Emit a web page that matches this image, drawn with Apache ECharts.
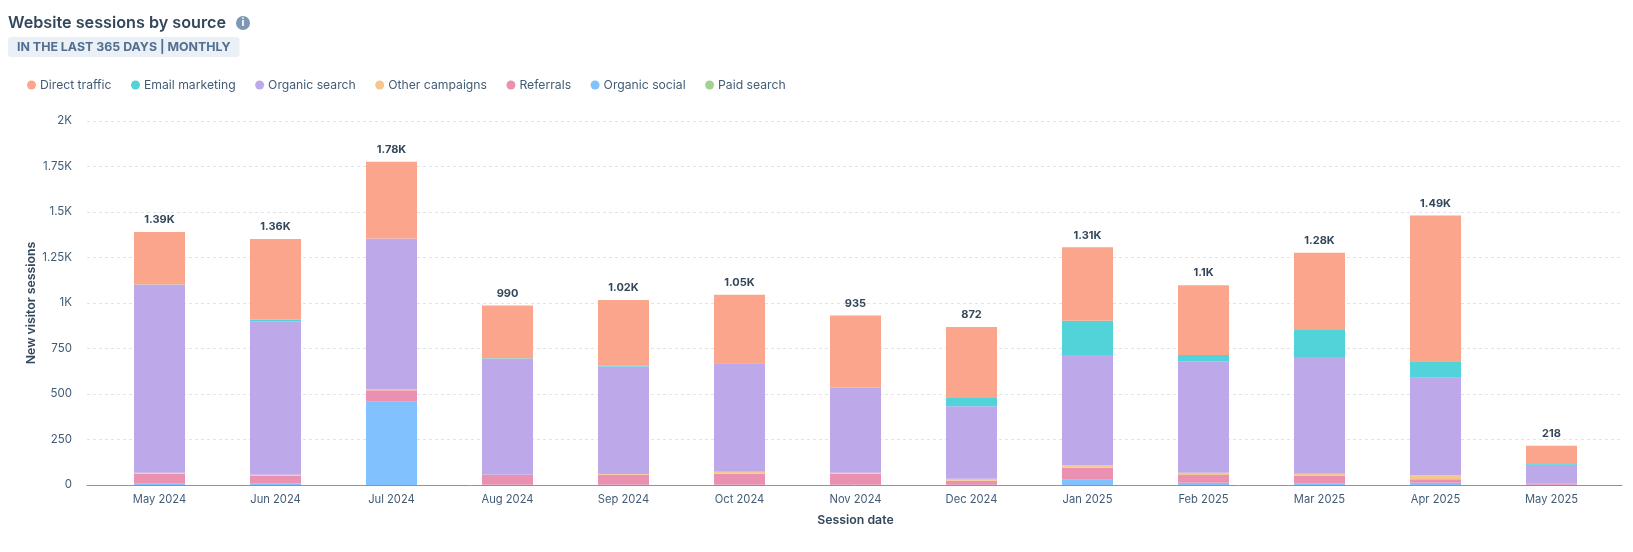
<!DOCTYPE html>
<html>
<head>
	<meta charset="UTF-8">
	<title>Website sessions by source</title>
	<script src="https://cdn.jsdelivr.net/npm/echarts@6/dist/echarts.min.js"></script>
	<style>
		html, body { margin: 0; padding: 0; background: #fff; }
		#chart { width: 1633px; height: 552px; }
	</style>
</head>
<body>
<div id="chart"></div>
<script type="text/javascript">
var categories = ["May 2024", "Jun 2024", "Jul 2024", "Aug 2024", "Sep 2024", "Oct 2024", "Nov 2024", "Dec 2024", "Jan 2025", "Feb 2025", "Mar 2025", "Apr 2025", "May 2025"];

var paidSearch = [0, 0, 0, 0, 0, 0, 0, 0, 0, 0, 0, 0, 0];
var organicSocial = [9, 9, 458, 1, 1, 1, 1, 1, 29, 13, 9, 13, 2];
var referrals = [53, 42, 62, 54, 55, 61, 61, 23, 66, 42, 42, 18, 5];
var otherCampaigns = [5, 5, 7, 1, 5, 11, 5, 11, 14, 12, 11, 22, 0];
var organicSearch = [1033, 844, 827, 637, 590, 596, 469, 398, 605, 613, 641, 536, 104];
var emailMarketing = [1, 8, 1, 3, 4, 1, 1, 45, 189, 34, 148, 91, 5];
var directTraffic = [289, 444, 421, 290, 361, 376, 394, 390, 403, 384, 425, 801, 100];

var totalLabels = ["1.39K", "1.36K", "1.78K", "990", "1.02K", "1.05K", "935", "872", "1.31K", "1.1K", "1.28K", "1.49K", "218"];
var legendNames = ["Direct traffic", "Email marketing", "Organic search", "Other campaigns", "Referrals", "Organic social", "Paid search"];

var fontName = "Inter";
var textDark = "#33475b";
var textMid = "#425b76";

function barSeries(name, data, color) {
	return {
		name: name,
		type: "bar",
		stack: "sessions",
		xAxisIndex: 1,
		yAxisIndex: 1,
		barWidth: 51,
		itemStyle: { color: color },
		data: data
	};
}

// position of the total label = sum of the stack
var stackTops = categories.map(function (c, i) {
	return paidSearch[i] + organicSocial[i] + referrals[i] + otherCampaigns[i] + organicSearch[i] + emailMarketing[i] + directTraffic[i];
});

var myChart = echarts.init(document.getElementById("chart"));
var option = {
	animation: false,
	textStyle: { fontFamily: fontName },
	title: [
		{
			text: "Website sessions by source",
			left: 8,
			top: 15,
			padding: 0,
			textStyle: { fontFamily: fontName, fontSize: 16.2, fontWeight: 600, color: textDark }
		},
		{
			text: "IN THE LAST 365 DAYS | MONTHLY",
			left: 8,
			top: 37,
			padding: [4, 9, 4, 9],
			backgroundColor: "#eaf0f6",
			borderRadius: 3,
			textStyle: { fontFamily: fontName, fontSize: 12.4, fontWeight: 700, color: "#516f90" }
		}
	],
	legend: {
		data: legendNames,
		left: 22,
		top: 74,
		icon: "circle",
		itemWidth: 9,
		itemHeight: 9,
		itemGap: 19.5,
		textStyle: { fontFamily: fontName, fontSize: 12.2, color: textMid, padding: [0, 0, 0, -1] }
	},
	graphic: [
		{ type: "circle", shape: { cx: 243, cy: 23, r: 7 }, style: { fill: "#7c98b6" } },
		{ type: "text", style: { x: 243, y: 23, text: "i", fill: "#fff", font: "bold 11px " + fontName, align: "center", verticalAlign: "middle" } }
	],
	grid: [
		{ left: 87, right: 11, top: 121, bottom: 67 },
		{ left: 101.5, right: 23.5, top: 121, bottom: 67 }
	],
	xAxis: [
		{
			gridIndex: 0,
			type: "value",
			min: 0,
			max: 1,
			axisLine: { onZero: false, lineStyle: { color: "#7c98b6", width: 1 } },
			axisTick: { show: false },
			axisLabel: { show: false },
			splitLine: { show: false }
		},
		{
			gridIndex: 1,
			type: "category",
			data: categories,
			name: "Session date",
			nameLocation: "middle",
			nameGap: 29,
			nameTextStyle: { fontFamily: fontName, fontSize: 12.3, fontWeight: 600, color: textDark },
			axisLine: { show: false },
			axisTick: { show: false },
			axisLabel: { interval: 0, margin: 9, fontSize: 11.2, color: textMid }
		}
	],
	yAxis: [
		{
			gridIndex: 0,
			type: "value",
			min: 0,
			max: 2000,
			interval: 250,
			name: "New visitor sessions",
			nameLocation: "middle",
			nameGap: 50,
			nameMoveOverlap: false,
			nameTextStyle: { fontFamily: fontName, fontSize: 12.3, fontWeight: 600, color: textDark },
			axisLine: { show: false },
			axisTick: { show: false },
			axisLabel: {
				margin: 15,
				fontSize: 11.5,
				color: textMid,
				formatter: function (v) { return v >= 1000 ? (v / 1000) + "K" : v; }
			},
			splitLine: { lineStyle: { color: "#dfe3eb", type: [3, 3], width: 1 } }
		},
		{
			gridIndex: 1,
			type: "value",
			min: 0,
			max: 2000,
			interval: 250,
			show: false
		}
	],
	series: [
		barSeries("Paid search", paidSearch, "#a2d28f"),
		barSeries("Organic social", organicSocial, "#81c1fd"),
		barSeries("Referrals", referrals, "#ea90b1"),
		barSeries("Other campaigns", otherCampaigns, "#f5c78e"),
		barSeries("Organic search", organicSearch, "#bda9ea"),
		barSeries("Email marketing", emailMarketing, "#51d3d9"),
		barSeries("Direct traffic", directTraffic, "#fba58c"),
		{
			name: "Total",
			type: "line",
			xAxisIndex: 1,
			yAxisIndex: 1,
			silent: true,
			symbol: "circle",
			symbolSize: 1,
			showAllSymbol: true,
			itemStyle: { color: "rgba(0,0,0,0)" },
			lineStyle: { opacity: 0 },
			data: stackTops,
			label: {
				show: true,
				position: "top",
				distance: 6,
				fontFamily: fontName,
				fontSize: 11,
				fontWeight: 700,
				color: textDark,
				formatter: function (p) { return totalLabels[p.dataIndex]; }
			}
		}
	]
};
myChart.setOption(option);
</script>
</body>
</html>
